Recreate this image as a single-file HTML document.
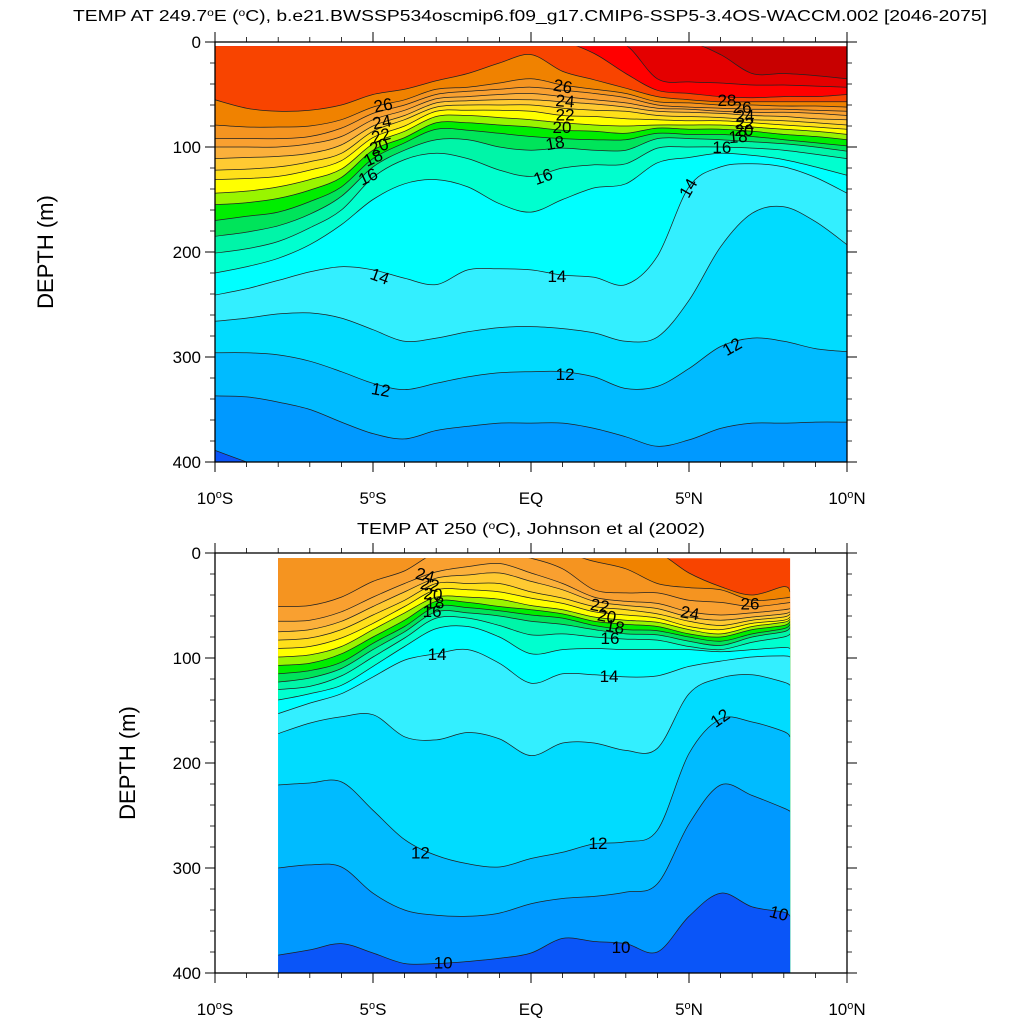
<!DOCTYPE html>
<html><head><meta charset="utf-8"><style>
html,body{margin:0;padding:0;background:#fff;}
svg{display:block;font-family:"Liberation Sans",Arial,sans-serif;}
</style></head><body>
<svg id="chart" width="1024" height="1024" viewBox="0 0 1024 1024" xmlns="http://www.w3.org/2000/svg">
<defs>
<clipPath id="clipTop"><rect x="215" y="46.2" width="632" height="415.8"/></clipPath>
<clipPath id="clipBot"><rect x="278.2" y="558.3" width="511.9" height="414.7"/></clipPath>
</defs>
<text x="530" y="21" font-size="16" text-anchor="middle" textLength="914" lengthAdjust="spacingAndGlyphs">TEMP AT 249.7<tspan baseline-shift="super" font-size="10">o</tspan>E (<tspan baseline-shift="super" font-size="10">o</tspan>C), b.e21.BWSSP534oscmip6.f09_g17.CMIP6-SSP5-3.4OS-WACCM.002 [2046-2075]</text>
<text x="531" y="534" font-size="16" text-anchor="middle" textLength="348" lengthAdjust="spacingAndGlyphs">TEMP AT 250 (<tspan baseline-shift="super" font-size="10">o</tspan>C), Johnson et al (2002)</text>
<text transform="translate(53,252) rotate(-90)" font-size="22" text-anchor="middle">DEPTH (m)</text>
<text transform="translate(135,763) rotate(-90)" font-size="22" text-anchor="middle">DEPTH (m)</text>
<g id="topPlot"></g>
<g id="botPlot"></g>
</svg>
<script>
// Band colours: index i = band [9+i, 10+i] degC (index 0 = below 10, last = above 30)
const bandColors = ['#0a55f8','#0099ff','#00bbff','#00dcff','#33efff','#00ffff','#00ffcf','#00f5a8','#00e45a','#00ee00','#99f500','#ffff00','#ffe01a','#ffca32','#fbb03b','#f9a030','#f59420','#f08200','#f84400','#ff0000','#e40000','#c80000'];

// ---- Top plot (model), depths in metres of each isotherm at each latitude ----
const topLats = [-10,-9,-8,-7,-6,-5,-4,-3,-2,-1,0,1,2,3,4,5,6,7,8,9,10];
const topT30 = [0,0,0,0,0,0,0,0,0,0,0,0,0,0,0,0,12,30,30,32,35];
const topT29 = [0,0,0,0,0,0,0,0,0,0,0,0,0,3,35,38,39,41,41,42,43];
const topT28 = [0,0,0,0,0,0,0,0,0,0,0,0,11,30,46,49,52,53,52,52,50];
const topT27 = [55,63,66,65,60,50,45,37,30,20,12,28,36,44,52,55,57,57,57,57,57];
const topT26 = [79,81,81,80,74,62,55,45,43,39,35,41,45,49,57,58,60,60,61,61,62];
const topT25 = [92,92,92,90,82,68,60,50,47,45,43,46,49,53,60,62,63,64,64,65,66];
const topT24 = [100,100,100,97,90,74,65,54,52,50,49,52,55,58,63,64,66,67,67,68,70];
const topT23 = [111,110,109,106,98,80,70,58,56,55,55,57,59,62,66,67,68,70,71,73,74];
const topT22 = [122,121,119,114,106,85,74,62,60,60,60,63,65,66,70,71,72,74,75,77,79];
const topT21 = [131,130,128,122,113,91,80,66,65,65,66,70,71,73,74,75,75,77,79,81,83];
const topT20 = [144,142,138,131,121,97,85,71,70,72,74,77,79,80,79,79,79,81,83,85,88];
const topT19 = [155,153,149,141,129,103,91,77,77,79,81,84,85,87,82,83,83,85,88,90,93];
const topT18 = [170,166,162,152,138,111,96,83,84,87,90,92,93,93,87,88,88,90,93,96,99];
const topT17 = [185,181,175,164,147,119,103,93,93,100,103,101,103,103,92,92,93,95,97,100,104];
const topT16 = [201,197,190,177,160,129,112,106,111,122,128,120,117,116,101,100,100,101,103,107,111];
const topT15 = [220,214,206,193,174,150,135,131,138,154,162,150,139,135,115,110,106,108,112,119,127];
const topT14 = [241,235,227,219,214,217,225,231,217,216,217,222,224,231,204,138,119,116,119,129,144];
const topT13 = [266,263,259,258,263,274,285,282,276,272,271,273,277,285,281,246,195,163,157,171,193];
const topT12 = [296,296,298,304,314,325,331,325,319,315,314,314,319,330,328,311,290,282,285,292,295];
const topT11 = [337,338,343,350,362,373,378,370,366,363,363,363,368,376,385,379,368,363,363,362,362];
const topT10 = [389,400,410,420,420,420,420,420,420,420,420,420,420,420,420,420,420,420,420,420,420];
const topLabelText = ['26','24','22','20','18','16','14','12','26','24','22','20','18','16','14','12','28','26','24','22','20','18','16','14','12'];
const topLabelLat = [-4.68,-4.72,-4.75,-4.81,-5.0,-5.16,-4.78,-4.75,1.01,1.08,1.08,0.98,0.76,0.38,0.82,1.08,6.2,6.68,6.77,6.77,6.74,6.55,6.04,4.97,6.36];
const topLabelDepth = [60,76,89,99,110,128,223,331,42,56,69,81,96,128,223,316,55,62,70,77,84,90,100,139,290];
const topLabelRot = [-10,-10,-15,-20,-25,-25,20,10,10,5,0,0,-10,-20,0,0,0,0,0,0,0,-5,0,-60,-30];

// ---- Bottom plot (Johnson et al 2002) ----
const botLats = [-8,-7,-6,-5,-4,-3,-2,-1,0,1,2,3,4,5,6,7,8,8.2];
const botT27 = [0,0,0,0,0,0,0,0,0,0,0,0,0,19,32,40,32,37];
const botT26 = [0,0,0,0,0,0,0,0,0,0,8,15,29,33,35,45,43,42];
const botT25 = [51,50,42,27,17,0,0,0,5,15,35,38,38,45,47,51,48,47];
const botT24 = [65,64,56,42,29,18,13,10,19,29,42,46,48,56,59,57,54,53];
const botT23 = [75,73,65,51,37,24,21,19,27,35,46,50,53,61,64,61,58,56];
const botT22 = [83,81,73,59,45,29,29,29,37,43,51,54,58,65,69,64,61,58];
const botT21 = [91,89,81,67,51,35,35,37,43,48,56,59,62,70,73,67,64,61];
const botT20 = [99,97,89,73,57,42,42,44,50,54,61,64,66,73,77,70,66,63];
const botT19 = [107,105,96,80,64,46,47,51,54,58,65,68,70,77,80,73,69,65];
const botT18 = [115,112,104,86,70,51,52,55,59,62,69,73,74,80,84,77,72,68];
const botT17 = [123,119,110,92,75,56,57,60,65,68,73,77,78,84,88,80,75,71];
const botT16 = [130,127,117,99,81,62,62,69,78,77,80,82,83,89,92,85,80,77];
const botT15 = [140,134,126,108,89,72,70,80,96,92,91,92,92,92,94,92,90,91];
const botT14 = [153,143,134,118,102,96,92,105,124,115,116,118,117,108,103,99,98,99];
const botT13 = [172,162,156,154,175,178,171,177,193,181,181,188,186,134,119,116,123,126];
const botT12 = [221,219,218,245,273,288,296,299,291,285,277,275,264,191,158,161,170,175];
const botT11 = [300,297,299,324,340,345,346,343,334,329,327,323,315,258,221,231,243,246];
const botT10 = [383,378,372,381,391,391,389,386,381,367,370,372,380,346,324,337,342,346];
const botLabelText = ['24','22','20','18','16','14','12','22','20','18','16','14','12','24','26','12','10','10','10'];
const botLabelLat = [-3.35,-3.2,-3.1,-3.04,-3.13,-2.97,-3.5,2.18,2.4,2.66,2.5,2.47,2.12,5.03,6.93,5.98,7.85,-2.78,2.85];
const botLabelDepth = [21,30,39,47,55,96,285,50,60,70,81,117,276,57,48,157,343,390,375];
const botLabelRot = [15,10,5,0,0,0,0,10,10,10,0,0,0,10,0,-35,15,0,0];

// axis ticks
const depthTicks = [0,100,200,300,400];
const depthMinor = [20,40,60,80,120,140,160,180,220,240,260,280,320,340,360,380];
const latTicks = [-10,-5,0,5,10];
const latTickLabels = ['10|S','5|S','EQ','5|N','10|N'];

const NS='http://www.w3.org/2000/svg';
function mk(tag, attrs, parent){const e=document.createElementNS(NS,tag);for(const k in attrs)e.setAttribute(k,attrs[k]);parent.appendChild(e);return e;}

function crPath(pts){
  let d='M'+pts[0][0].toFixed(1)+','+pts[0][1].toFixed(1);
  for(let i=0;i<pts.length-1;i++){
    const p0=pts[Math.max(i-1,0)],p1=pts[i],p2=pts[i+1],p3=pts[Math.min(i+2,pts.length-1)];
    const c1x=p1[0]+(p2[0]-p0[0])/6,c1y=p1[1]+(p2[1]-p0[1])/6;
    const c2x=p2[0]-(p3[0]-p1[0])/6,c2y=p2[1]-(p3[1]-p1[1])/6;
    d+='C'+c1x.toFixed(1)+','+c1y.toFixed(1)+' '+c2x.toFixed(1)+','+c2y.toFixed(1)+' '+p2[0].toFixed(1)+','+p2[1].toFixed(1);
  }
  return d;
}

function drawPlot(g, P, lats, isos, clipId, lblText, lblLat, lblDepth, lblRot, prefix){
  const xOf=lat=>P.x0+(lat+10)*(P.x1-P.x0)/20;
  const yOf=d=>P.y0+d*(P.y1-P.y0)/400;
  const cg=mk('g',{'clip-path':'url(#'+clipId+')'},g);
  
  
  const maxT=isos[0][0];
  const base=mk('rect',{x:P.x0,y:P.y0,width:P.x1-P.x0,height:P.y1-P.y0,fill:bandColors[maxT-9]},cg);
  
  
  const curves=[];
  isos.forEach(([T,arr])=>{
    const pts=lats.map((la,i)=>[xOf(la),yOf(arr[i])]);
    const c=crPath(pts);
    curves.push([T,c]);
    const xl=xOf(lats[lats.length-1]),xf=xOf(lats[0]);
    const band=mk('path',{d:c+'L'+xl+','+(P.y1+30)+'L'+xf+','+(P.y1+30)+'Z',fill:bandColors[T-10],stroke:bandColors[T-10],'stroke-width':0.3},cg);
    
    
  });
  curves.forEach(([T,c])=>{
    const ln=mk('path',{d:c,fill:'none',stroke:'#222','stroke-width':0.75},cg);
    
    
  });
  lblText.forEach((t,i)=>{
    const x=xOf(lblLat[i]),y=yOf(lblDepth[i]);
    const tx=mk('text',{x:x,y:y+6,'font-size':17,'text-anchor':'middle',transform:'rotate('+lblRot[i]+' '+x+' '+y+')'},cg);
    tx.textContent=t;
    
    
  });
  // frame
  const fr=mk('rect',{x:P.x0,y:P.y0,width:P.x1-P.x0,height:P.y1-P.y0,fill:'none',stroke:'#000','stroke-width':1.3},g);
  
  
  // y ticks
  depthTicks.forEach(d=>{
    const y=yOf(d);
    mk('line',{x1:P.x0-10,x2:P.x0,y1:y,y2:y,stroke:'#000','stroke-width':1},g);
    mk('line',{x1:P.x1,x2:P.x1+10,y1:y,y2:y,stroke:'#000','stroke-width':1},g);
    const t=mk('text',{x:P.x0-14,y:y+6,'font-size':17,'text-anchor':'end'},g);
    t.textContent=d;
    
    
  });
  depthMinor.forEach(d=>{
    const y=yOf(d);
    mk('line',{x1:P.x0-5,x2:P.x0,y1:y,y2:y,stroke:'#000','stroke-width':0.8},g);
    mk('line',{x1:P.x1,x2:P.x1+5,y1:y,y2:y,stroke:'#000','stroke-width':0.8},g);
  });
  for(let la=-10;la<=10;la++){
    const x=xOf(la),major=la%5===0,L=major?10:5;
    mk('line',{x1:x,x2:x,y1:P.y1,y2:P.y1+L,stroke:'#000','stroke-width':major?1:0.8},g);
    mk('line',{x1:x,x2:x,y1:P.y0-L,y2:P.y0,stroke:'#000','stroke-width':major?1:0.8},g);
  }
  latTicks.forEach((la,i)=>{
    const x=xOf(la);
    const parts=latTickLabels[i].split('|');
    const t=mk('text',{x:x,y:P.y1+42,'font-size':17,'text-anchor':'middle'},g);
    
    
    if(parts.length===1){t.textContent=parts[0];}
    else{
      t.appendChild(document.createTextNode(parts[0]));
      const s=mk('tspan',{'baseline-shift':'super','font-size':11},t);s.textContent='o';
      const s2=mk('tspan',{'baseline-shift':'0'},t);s2.textContent=parts[1];
    }
  });
}

const topIsos=[[30,topT30],[29,topT29],[28,topT28],[27,topT27],[26,topT26],[25,topT25],[24,topT24],[23,topT23],[22,topT22],[21,topT21],[20,topT20],[19,topT19],[18,topT18],[17,topT17],[16,topT16],[15,topT15],[14,topT14],[13,topT13],[12,topT12],[11,topT11],[10,topT10]];
const botIsos=[[27,botT27],[26,botT26],[25,botT25],[24,botT24],[23,botT23],[22,botT22],[21,botT21],[20,botT20],[19,botT19],[18,botT18],[17,botT17],[16,botT16],[15,botT15],[14,botT14],[13,botT13],[12,botT12],[11,botT11],[10,botT10]];

drawPlot(document.getElementById('topPlot'),{x0:215,x1:847,y0:42,y1:462},topLats,topIsos,'clipTop',topLabelText,topLabelLat,topLabelDepth,topLabelRot,'top');
drawPlot(document.getElementById('botPlot'),{x0:215,x1:847,y0:553,y1:973},botLats,botIsos,'clipBot',botLabelText,botLabelLat,botLabelDepth,botLabelRot,'bottom');
</script>
</body></html>
